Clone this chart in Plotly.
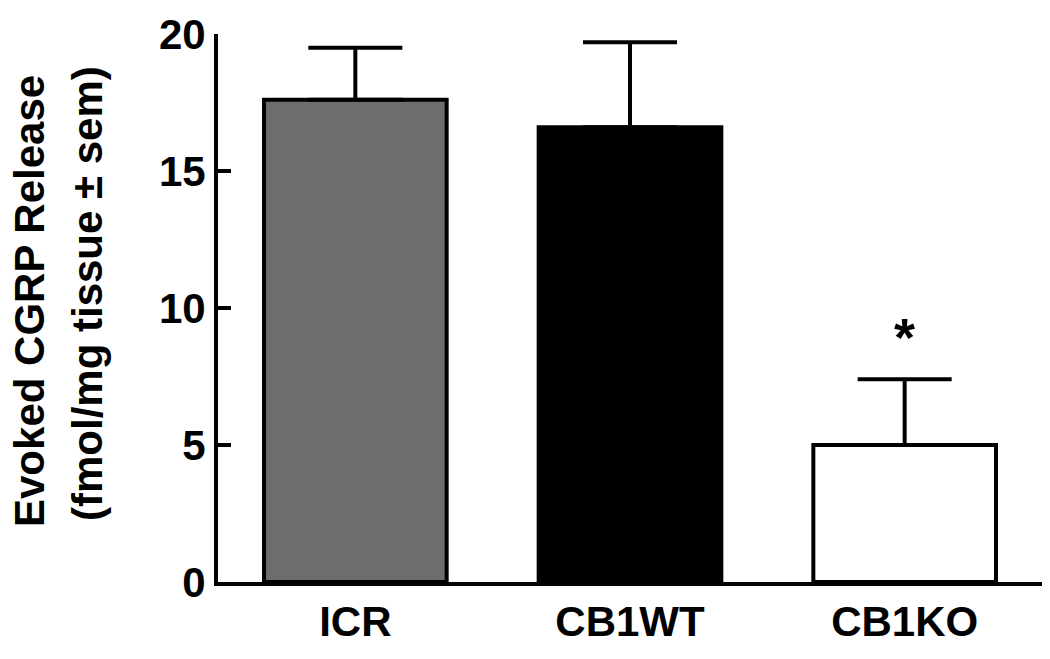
import plotly.graph_objects as go

# data
groups = ['ICR', 'CB1WT', 'CB1KO']
release_mean = [17.6, 16.6, 5.0]
release_sem = [1.9, 3.1, 2.4]
significant = [False, False, True]

FILLS = ['#6d6d6d', '#000000', '#ffffff']
FONT = 'Liberation Sans, Arial, sans-serif'
FS = 42

fig = go.Figure()

fig.add_trace(go.Bar(
    x=groups,
    y=release_mean,
    marker=dict(color=FILLS, line=dict(color='black', width=4)),
    error_y=dict(
        type='data',
        symmetric=False,
        array=release_sem,
        arrayminus=[0] * len(groups),
        color='black',
        thickness=4,
        width=47,
    ),
    showlegend=False,
))

# significance marker above the error bar
for g, m, s, sig in zip(groups, release_mean, release_sem, significant):
    if sig:
        fig.add_annotation(
            x=g, y=m + s, xref='x', yref='y',
            text='*', showarrow=False,
            yanchor='bottom', yshift=10,
            font=dict(family=FONT, size=54, color='black', weight='bold'),
        )

# two-line y title, drawn as rotated annotations to control line spacing
fig.add_annotation(
    text='Evoked CGRP Release', xref='paper', yref='paper',
    x=0, y=0.5, xanchor='center', yanchor='middle',
    xshift=-189, yshift=7, textangle=-90, showarrow=False,
    font=dict(family=FONT, size=FS, color='black', weight='bold'),
)
fig.add_annotation(
    text='(fmol/mg tissue ± sem)', xref='paper', yref='paper',
    x=0, y=0.5, xanchor='center', yanchor='middle',
    xshift=-131, yshift=14, textangle=-90, showarrow=False,
    font=dict(family=FONT, size=FS, color='black', weight='bold'),
)

fig.update_layout(
    width=1050,
    height=659,
    margin=dict(l=218, r=8, t=34, b=77),
    plot_bgcolor='white',
    paper_bgcolor='white',
    bargap=0.335,
    font=dict(family=FONT, size=FS, color='black', weight='bold'),
    xaxis=dict(
        showline=True, linecolor='black', linewidth=4,
        ticks='', showgrid=False, zeroline=False,
        range=[-0.5, 2.5],
        tickfont=dict(family=FONT, size=FS, color='black', weight='bold'),
    ),
    yaxis=dict(
        range=[0, 20], dtick=5, tick0=0,
        showline=True, linecolor='black', linewidth=4,
        ticks='inside', ticklen=13, tickwidth=4, tickcolor='black',
        showgrid=False, zeroline=False,
        tickfont=dict(family=FONT, size=FS, color='black', weight='bold'),
    ),
)

# drop the page's default body margin so the figure fills the window
fig.write_html(
    'out.html',
    config={'displayModeBar': False},
    post_script="document.body.style.margin='0';",
)
